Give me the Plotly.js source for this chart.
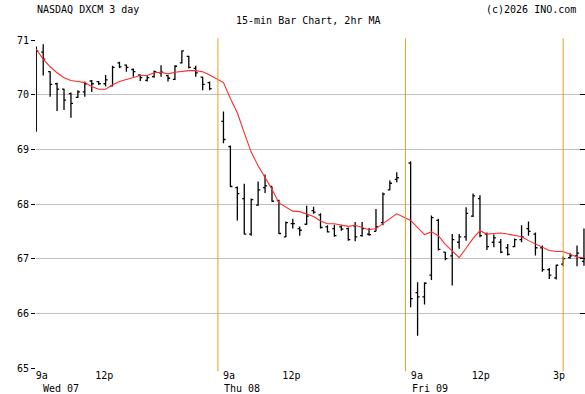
<!DOCTYPE html>
<html>
<head>
<meta charset="utf-8">
<script src="https://cdn.plot.ly/plotly-3.0.1.min.js"></script>
<style>html,body{margin:0;padding:0;background:#fff;}#chart{width:585px;height:394px;}</style>
</head>
<body>
<div id="chart"></div>
<script>
// ---- data (15-min bars, DXCM, Wed 07 – Fri 09) ----
const days = ["Wed 07", "Thu 08", "Fri 09"];
const barsPerDay = 26;
const slotsPerDay = 27; // 26 bars + 1 empty slot at day break

const openP = [
  69.40,70.78,70.42,70.20,70.10,70.02,69.95,70.05,70.25,70.24,70.20,70.16,70.58,
  70.54,70.46,70.36,70.26,70.33,70.40,70.35,70.28,70.58,70.70,70.48,70.32,70.22,
  69.51,69.05,68.30,68.10,67.45,67.98,68.30,68.32,68.06,67.40,67.64,67.55,67.63,
  67.88,67.80,67.58,67.55,67.58,67.55,67.60,67.42,67.45,67.50,67.66,68.26,68.45,
  68.75,66.38,66.30,66.70,67.70,67.12,67.05,67.30,67.40,67.78,68.10,67.45,67.30,
  67.30,67.20,67.22,67.35,67.55,67.45,67.20,66.80,66.65,66.90,67.02,67.05,66.95
];
const highP = [
  70.88,70.92,70.43,70.22,70.11,70.04,70.08,70.24,70.27,70.25,70.36,70.53,70.60,
  70.55,70.48,70.37,70.35,70.44,70.54,70.36,70.54,70.81,70.71,70.53,70.33,70.24,
  69.69,69.07,68.32,68.37,68.10,68.41,68.54,68.32,68.08,67.68,67.73,67.59,67.97,
  67.95,67.83,67.61,67.62,67.61,67.57,67.67,67.67,67.56,67.91,68.21,68.43,68.58,
  68.78,66.57,66.57,67.79,67.73,67.12,67.45,67.45,67.94,68.19,68.16,67.48,67.44,
  67.36,67.27,67.37,67.61,67.68,67.48,67.24,66.83,66.89,67.04,67.10,67.24,67.55
];
const lowP = [
  69.32,70.35,69.96,69.70,69.72,69.58,69.94,69.96,70.05,70.18,70.15,70.15,70.49,
  70.42,70.33,70.25,70.24,70.31,70.33,70.24,70.27,70.57,70.48,70.33,70.08,70.08,
  69.11,68.31,67.70,67.44,67.42,67.97,68.20,68.04,67.45,67.39,67.55,67.42,67.62,
  67.82,67.55,67.48,67.40,67.51,67.33,67.32,67.40,67.42,67.50,67.61,68.25,68.40,
  66.11,65.59,66.16,66.61,67.15,66.97,66.51,67.18,67.33,67.76,67.39,67.16,67.21,
  67.10,67.06,67.21,67.30,67.42,67.06,66.76,66.63,66.62,66.86,67.00,66.86,66.87
];
const closeP = [
  70.80,70.65,70.19,70.10,69.90,69.84,70.05,70.20,70.20,70.20,70.27,70.50,70.51,
  70.50,70.42,70.31,70.31,70.42,70.41,70.30,70.52,70.80,70.50,70.40,70.19,70.11,
  69.18,68.32,68.19,67.45,68.08,68.26,68.33,68.05,67.46,67.66,67.64,67.52,67.78,
  67.85,67.57,67.49,67.42,67.54,67.35,67.40,67.55,67.44,67.58,68.18,68.38,68.48,
  66.27,66.30,66.55,67.75,67.17,67.00,67.35,67.40,67.83,68.15,67.42,67.22,67.38,
  67.12,67.08,67.35,67.40,67.50,67.20,66.80,66.70,66.88,67.00,67.05,67.10,67.00
];
// 2hr moving average as drawn
const ma2hr = [
  70.83,70.65,70.51,70.40,70.31,70.26,70.24,70.22,70.15,70.10,70.10,70.18,70.24,
  70.28,70.32,70.35,70.35,70.40,70.41,70.38,70.41,70.43,70.44,70.44,70.42,70.36,
  70.22,69.93,69.67,69.30,68.95,68.70,68.49,68.27,68.02,67.95,67.87,67.86,67.82,
  67.77,67.69,67.64,67.64,67.61,67.59,67.61,67.57,67.53,67.55,67.64,67.74,67.82,
  67.70,67.57,67.44,67.49,67.42,67.26,67.14,67.02,67.19,67.37,67.51,67.45,67.46,
  67.47,67.45,67.42,67.40,67.33,67.27,67.20,67.15,67.13,67.13,67.08,67.03,67.01
];
const yTicks = [65, 66, 67, 68, 69, 70, 71];
const timeTickPos = [0.8, 9.8, 27.8, 36.8, 54.9, 64.1, 75.4];
const timeTickText = ["9a", "12p", "9a", "12p", "9a", "12p", "3p"];
const dayLabelPos = [0.7, 26.75, 53.9];
const markerLines = [26.2, 53.25, 76];

// slot positions from structure
const slots = openP.map((_, i) => Math.floor(i / barsPerDay) * slotsPerDay + (i % barsPerDay));

const FONT = "DejaVu Sans Mono, monospace";
const traces = [
  {
    type: "ohlc", x: slots, open: openP, high: highP, low: lowP, close: closeP,
    increasing: {line: {color: "#000", width: 1.3}},
    decreasing: {line: {color: "#000", width: 1.3}},
    tickwidth: 0.3, hoverinfo: "skip", showlegend: false
  },
  {
    type: "scatter", mode: "lines", x: slots, y: ma2hr,
    line: {color: "#ff2a2a", width: 1.1}, hoverinfo: "skip", showlegend: false
  },
  {
    type: "scatter", mode: "markers", x: [null], y: [null], yaxis: "y2",
    hoverinfo: "skip", showlegend: false
  }
];

const shapes = markerLines.map(v => ({
  type: "line", xref: "x", yref: "paper", x0: v, x1: v, y0: -0.01, y1: 1.005,
  line: {color: "#e3a31c", width: 1}, layer: "above"
}));

const annotations = [
  {text: "NASDAQ DXCM 3 day", xref: "paper", yref: "paper", x: -0.002, y: 1.092, xanchor: "left", yanchor: "middle", showarrow: false, font: {family: FONT, size: 10, color: "#000"}},
  {text: "(c)2026 INO.com", xref: "paper", yref: "paper", x: 0.987, y: 1.092, xanchor: "right", yanchor: "middle", showarrow: false, font: {family: FONT, size: 10, color: "#000"}},
  {text: "15-min Bar Chart, 2hr MA", xref: "paper", yref: "paper", x: 0.497, y: 1.058, xanchor: "center", yanchor: "middle", showarrow: false, font: {family: FONT, size: 10, color: "#000"}}
].concat(days.map((d, i) => ({
  text: d, xref: "x", yref: "paper", x: dayLabelPos[i], y: -0.064, xanchor: "left", yanchor: "middle",
  showarrow: false, font: {family: FONT, size: 10, color: "#000"}
})));

const layout = {
  width: 585, height: 394,
  margin: {l: 36, r: 0, t: 39.7, b: 26, pad: 0},
  paper_bgcolor: "#fff", plot_bgcolor: "#fff",
  showlegend: false,
  xaxis: {
    range: [-0.04, 79.15], showgrid: false, zeroline: false, showline: false,
    tickmode: "array", tickvals: timeTickPos, ticktext: timeTickText,
    ticks: "", tickfont: {family: FONT, size: 10, color: "#000"},
    rangeslider: {visible: false}, fixedrange: true
  },
  yaxis: {
    range: [65, 71], tickmode: "array", tickvals: yTicks,
    showgrid: true, gridcolor: "#c0c0c0", gridwidth: 1, zeroline: false, showline: false,
    ticks: "outside", ticklen: 4, tickcolor: "#000", tickwidth: 1,
    tickfont: {family: FONT, size: 10, color: "#000"}, fixedrange: true
  },
  yaxis2: {
    overlaying: "y", side: "right", range: [65, 71], tickmode: "array", tickvals: yTicks,
    showgrid: false, zeroline: false, showline: false, showticklabels: false,
    ticks: "inside", ticklen: 5, tickcolor: "#000", tickwidth: 1, fixedrange: true
  },
  shapes: shapes,
  annotations: annotations
};

Plotly.newPlot("chart", traces, layout, {displayModeBar: false, staticPlot: true});
</script>
</body>
</html>
